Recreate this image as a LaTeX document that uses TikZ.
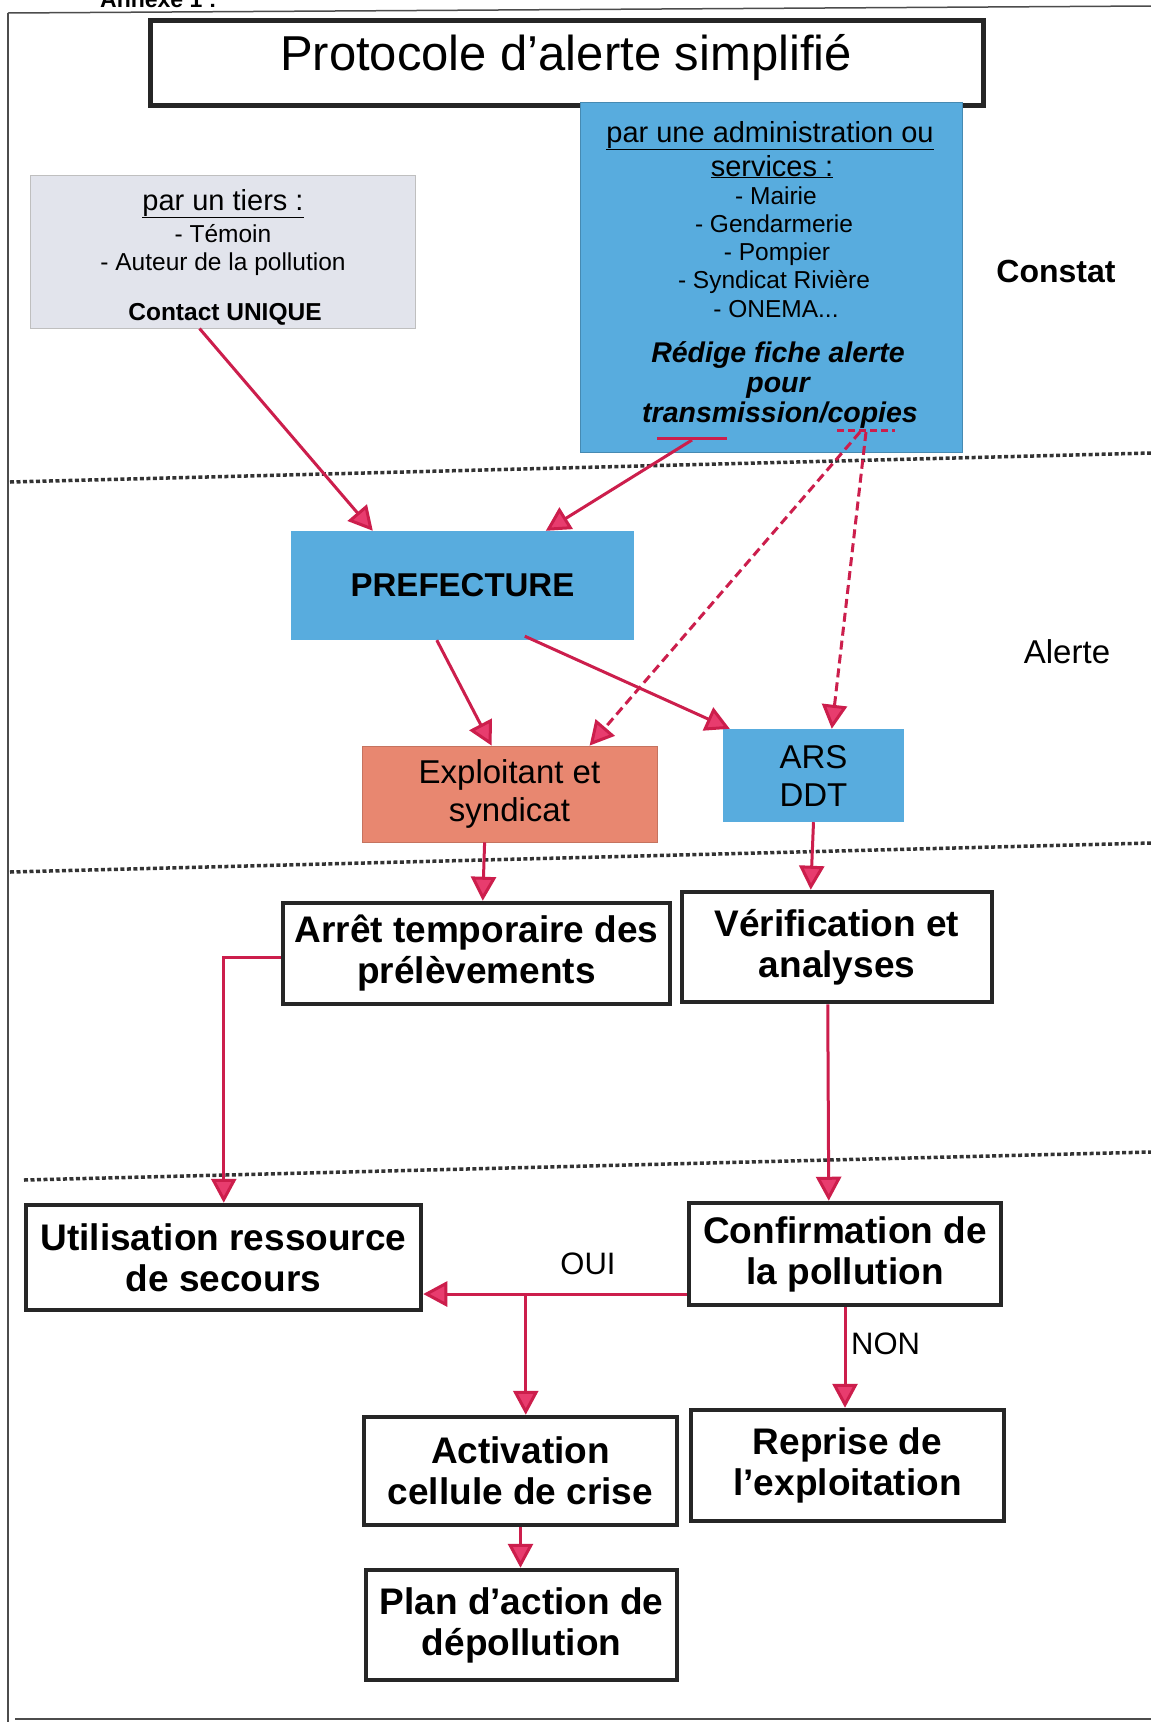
\documentclass[tikz,border=0pt]{standalone}
\usepackage{fontspec}
\setmainfont{Liberation Sans}
\usetikzlibrary{arrows.meta,calc}
\definecolor{boxblue}{RGB}{88,172,222}
\definecolor{salmon}{RGB}{232,135,112}
\definecolor{tiersgray}{RGB}{226,228,236}
\definecolor{arrred}{RGB}{204,30,76}
\definecolor{arrpink}{RGB}{232,60,110}
\begin{document}
\begin{tikzpicture}[x=1pt,y=-1pt,
  blkbox/.style={draw=black!85,line width=4.5pt,fill=white,inner sep=2pt,align=center,font=\fontsize{37}{41}\selectfont\bfseries},
  bluebox/.style={fill=boxblue,inner sep=0pt},
  lbl/.style={font=\fontsize{33}{38}\selectfont},
  arr/.style={draw=arrred,line width=3pt,-{Triangle[length=24pt,width=25pt,fill=arrpink]}},
  darr/.style={arr,dash pattern=on 9pt off 5pt},
  sepline/.style={draw=black!80,line width=3.5pt,dash pattern=on 4pt off 2.5pt},
  tline/.style={anchor=base,inner sep=0pt},
]
\clip (0,0) rectangle (1151,1722);
\fill[white] (0,0) rectangle (1151,1722);
% frame
\draw[black!70,line width=1.5pt] (8,13) -- (1151,6);
\draw[black!70,line width=1.5pt] (8,13) -- (8,1722);
\draw[black!70,line width=1.5pt] (15,1719) -- (1151,1719);
\node[anchor=base west,inner sep=0pt,font=\fontsize{23}{26}\selectfont\bfseries] (annexe) at (100,7) {Annexe 1 :};
% separators
\draw[sepline] (10,482) -- (1151,453);
\draw[sepline] (10,872) -- (1151,843);
\draw[sepline] (24,1180) -- (1151,1152);
% title
\node[draw=black!85,line width=5pt,fill=white,minimum width=833pt,minimum height=85pt] (title) at (566.5,62.5) {};
\node[tline,font=\fontsize{49}{52}\selectfont] (titletext) at (566,70) {Protocole d’alerte simplifié};
% tiers box
\node[fill=tiersgray,draw=black!25,line width=1pt,minimum width=385pt,minimum height=153pt] (tiers) at (222.5,251.5) {};
\node[tline,font=\fontsize{29}{32}\selectfont] (t1) at (223,210) {\underline{par un tiers :}};
\node[tline,font=\fontsize{24.5}{28}\selectfont] (t2) at (223,242) {- Témoin};
\node[tline,font=\fontsize{24.5}{28}\selectfont] (t3) at (223,270) {- Auteur de la pollution};
\node[tline,font=\fontsize{24.5}{28}\selectfont\bfseries] (t4) at (225,320) {Contact UNIQUE};
% admin box
\node[bluebox,draw=boxblue!80!black,line width=0.8pt,minimum width=382pt,minimum height=350pt] (admin) at (771,277) {};
\node[tline,font=\fontsize{29}{32}\selectfont] (a1) at (770,142) {\underline{par une administration ou}};
\node[tline,font=\fontsize{29}{32}\selectfont] (a2) at (772,176) {\underline{services :}};
\node[tline,font=\fontsize{24.5}{28}\selectfont] (a3) at (776,204) {- Mairie};
\node[tline,font=\fontsize{24.5}{28}\selectfont] (a4) at (774,232) {- Gendarmerie};
\node[tline,font=\fontsize{24.5}{28}\selectfont] (a5) at (777,260) {- Pompier};
\node[tline,font=\fontsize{24.5}{28}\selectfont] (a6) at (774,288) {- Syndicat Rivière};
\node[tline,font=\fontsize{24.5}{28}\selectfont] (a7) at (776,317) {- ONEMA...};
\node[tline,font=\fontsize{28.5}{32}\selectfont\bfseries\itshape] (a8) at (778,362) {Rédige fiche alerte};
\node[tline,font=\fontsize{28.5}{32}\selectfont\bfseries\itshape] (a9) at (778,392) {pour};
\node[tline,font=\fontsize{28.5}{32}\selectfont\bfseries\itshape] (a10) at (780,422) {transmission/copies};
% side labels
\node[lbl,font=\fontsize{32}{38}\selectfont\bfseries] (constat) at (1056,271) {Constat};
\node[lbl] (alerte) at (1067,652) {Alerte};
% alert nodes
\node[bluebox,minimum width=343pt,minimum height=109pt,font=\fontsize{33}{38}\selectfont\bfseries] (pref) at (462.5,585.5) {PREFECTURE};
\node[fill=salmon,draw=salmon!85!black,line width=0.8pt,minimum width=295pt,minimum height=96pt,align=center,font=\fontsize{33}{38}\selectfont] (expl) at (509.5,794) {Exploitant et\\syndicat};
\node[bluebox,minimum width=181pt,minimum height=93pt,align=center,font=\fontsize{33}{38}\selectfont] (ars) at (813.5,775.5) {ARS\\DDT};
% black boxes
\node[blkbox,minimum width=387pt,minimum height=101pt] (arret) at (476.5,953.5) {Arrêt temporaire des\\prélèvements};
\node[blkbox,minimum width=310pt,minimum height=110pt] (verif) at (837,947) {Vérification et\\analyses};
\node[blkbox,minimum width=395pt,minimum height=105pt] (util) at (223.5,1257.5) {Utilisation ressource\\de secours};
\node[blkbox,minimum width=312pt,minimum height=102pt] (conf) at (845,1254) {Confirmation de\\la pollution};
\node[blkbox,minimum width=313pt,minimum height=108pt] (activ) at (520.5,1471) {Activation\\cellule de crise};
\node[blkbox,minimum width=313pt,minimum height=111pt] (reprise) at (847.5,1465.5) {Reprise de\\l’exploitation};
\node[blkbox,minimum width=311pt,minimum height=110pt] (plan) at (521.5,1625) {Plan d’action de\\dépollution};
% connector start marks
\coordinate (m1) at (657,438);
\coordinate (m2) at (727,438);
\coordinate (m3) at (837,430);
\coordinate (m4) at (895,430);
\draw[arrred,line width=3pt] (m1) -- (m2);
\draw[arrred,line width=3pt,dash pattern=on 7pt off 4pt] (m3) -- (m4);
\coordinate (s2) at (692,440);
\coordinate (s3) at (860,432);
\coordinate (s4) at (866,432);
% arrows
\draw[arr] ([xshift=170pt]tiers.south west) -- ([xshift=82pt]pref.north west);
\draw[arr] (s2) -- ([xshift=255pt]pref.north west);
\draw[darr] (s3) -- ([xshift=228pt]expl.north west);
\draw[darr] (s4) -- ([xshift=109pt]ars.north west);
\draw[arr] ([xshift=146pt]pref.south west) -- ([xshift=130pt]expl.north west);
\draw[arr] ([xshift=234pt,yshift=4pt]pref.south west) -- ([xshift=7pt]ars.north west);
\draw[arr] ([xshift=123pt]expl.south west) -- ([xshift=202pt]arret.north west);
\draw[arr] (ars.south) -- ([xshift=131pt]verif.north west);
\draw[arr] ([yshift=-4pt]arret.west) -| ([xshift=200pt]util.north west);
\draw[arr] ([xshift=148pt]verif.south west) -- ([xshift=142pt]conf.north west);
\coordinate (c11) at ([yshift=-40pt]conf.west);
\draw[arr] (c11) -- (c11 -| util.east);
\coordinate (actin) at ([xshift=164pt]activ.north west);
\draw[arr] (actin |- c11) -- (actin);
\draw[arr] (conf.south) -- (conf.south |- reprise.north);
\draw[arr] (activ.south) -- (activ.south |- plan.north);
% labels
\node[anchor=base,inner sep=0pt,font=\fontsize{31}{34}\selectfont] (oui) at (588,1274) {OUI};
\node[anchor=base west,inner sep=0pt,font=\fontsize{31}{34}\selectfont] (non) at (851,1354) {NON};
\end{tikzpicture}
\end{document}
